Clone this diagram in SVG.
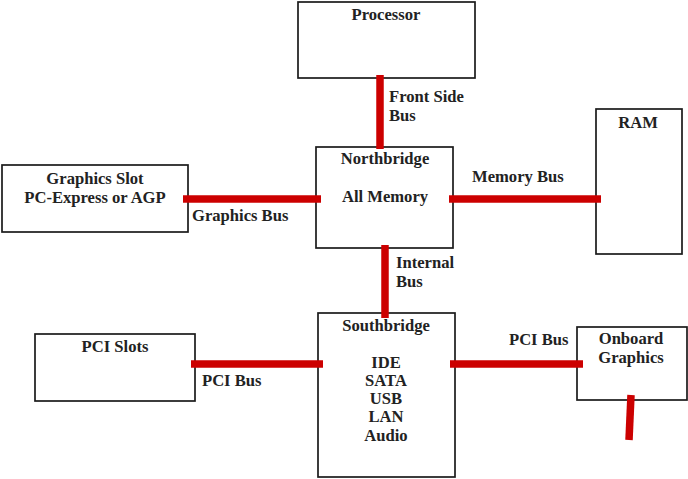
<svg xmlns="http://www.w3.org/2000/svg" width="688" height="479" viewBox="0 0 688 479">
<style>
.box{fill:#fff;stroke:#1a1a1a;stroke-width:1.7}
.bus{stroke:#cc0000;stroke-width:7.5;fill:none}
text{font-family:"Liberation Serif","Times New Roman",serif;font-weight:bold;font-size:16.6px;fill:#222}
.c{text-anchor:middle}
</style>
<rect width="688" height="479" fill="#fff"/>
<g id="processor"><rect class="box" x="298" y="2" width="177" height="76"/><text class="c" x="386" y="20">Processor</text></g>
<g id="northbridge"><rect class="box" x="316" y="147" width="137" height="101"/><text class="c" x="385" y="164">Northbridge</text><text class="c" x="385" y="202">All Memory</text></g>
<g id="graphics-slot"><rect class="box" x="2" y="165" width="186" height="67"/><text class="c" x="95" y="184">Graphics Slot</text><text class="c" x="95" y="203">PC-Express or AGP</text></g>
<g id="ram"><rect class="box" x="596" y="109" width="86" height="145"/><text class="c" x="638" y="128">RAM</text></g>
<g id="southbridge"><rect class="box" x="318" y="313" width="137" height="164"/><text class="c" x="386" y="331">Southbridge</text><text class="c" x="386" y="368">IDE</text><text class="c" x="386" y="386">SATA</text><text class="c" x="386" y="404">USB</text><text class="c" x="386" y="422">LAN</text><text class="c" x="386" y="441">Audio</text></g>
<g id="pci-slots"><rect class="box" x="35" y="334" width="160" height="67"/><text class="c" x="115" y="352">PCI Slots</text></g>
<g id="onboard-graphics"><rect class="box" x="577" y="327" width="110" height="73"/><text class="c" x="631" y="344">Onboard</text><text class="c" x="631" y="363">Graphics</text></g>
<g id="connectors">
<line class="bus" x1="380" y1="75" x2="380" y2="149"/>
<line class="bus" x1="183" y1="199" x2="321" y2="199"/>
<line class="bus" x1="449" y1="199" x2="601" y2="199"/>
<line class="bus" x1="385" y1="245" x2="385" y2="318"/>
<line class="bus" x1="191" y1="364" x2="323" y2="364"/>
<line class="bus" x1="450" y1="364" x2="583" y2="364"/>
<line class="bus" x1="631" y1="395" x2="629" y2="440"/>
<text x="389" y="102">Front Side</text><text x="389" y="121">Bus</text>
<text x="192" y="221">Graphics Bus</text>
<text x="472" y="182">Memory Bus</text>
<text x="396" y="268">Internal</text><text x="396" y="287">Bus</text>
<text x="202" y="386">PCI Bus</text>
<text x="509" y="345">PCI Bus</text>
</g>
</svg>
